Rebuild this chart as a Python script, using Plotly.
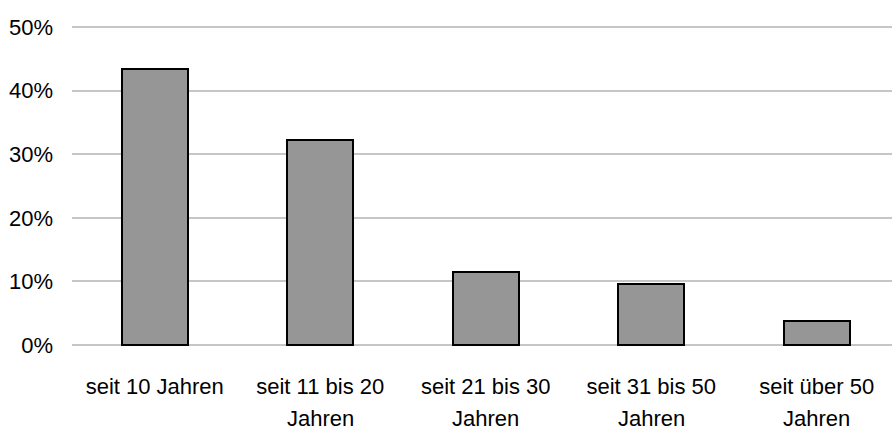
import plotly.graph_objects as go

labels_line1 = ["seit 10 Jahren", "seit 11 bis 20", "seit 21 bis 30", "seit 31 bis 50", "seit über 50"]
labels_line2 = ["", "Jahren", "Jahren", "Jahren", "Jahren"]
values = [43.4, 32.2, 11.4, 9.6, 3.8]
y_ticks = [0, 10, 20, 30, 40, 50]
y_tick_labels = ["0%", "10%", "20%", "30%", "40%", "50%"]

x_idx = list(range(len(labels_line1)))

fig = go.Figure()
fig.add_trace(go.Bar(
    x=x_idx, y=values, width=0.4,
    marker=dict(color="#969696", line=dict(color="#000000", width=2)),
    hoverinfo="skip",
))

FONT = "Liberation Sans, Arial, sans-serif"
annotations = []
for i, t in zip(x_idx, labels_line2):
    if t:
        annotations.append(dict(
            x=i, xref="x", y=-0.226, yref="paper", text=t, showarrow=False,
            xanchor="center", yanchor="middle", borderpad=0,
            font=dict(family=FONT, size=22, color="#000000"),
        ))

fig.update_layout(
    width=892, height=430,
    margin=dict(l=72, r=0, t=26, b=84),
    paper_bgcolor="white", plot_bgcolor="white",
    font=dict(family=FONT, size=22, color="#000000"),
    showlegend=False,
    bargap=0,
    annotations=annotations,
)
fig.update_xaxes(
    tickmode="array", tickvals=x_idx, ticktext=labels_line1,
    range=[-0.5, 4.455], showgrid=False, zeroline=False, showline=False,
    ticks="", ticklabelstandoff=25,
)
fig.update_yaxes(
    tickmode="array", tickvals=y_ticks, ticktext=y_tick_labels,
    range=[-0.16, 50.16], showgrid=True, gridcolor="#C6C6C6", gridwidth=1.6,
    zeroline=False, showline=False, ticks="", ticklabelstandoff=18,
)

fig.write_html("out.html")
